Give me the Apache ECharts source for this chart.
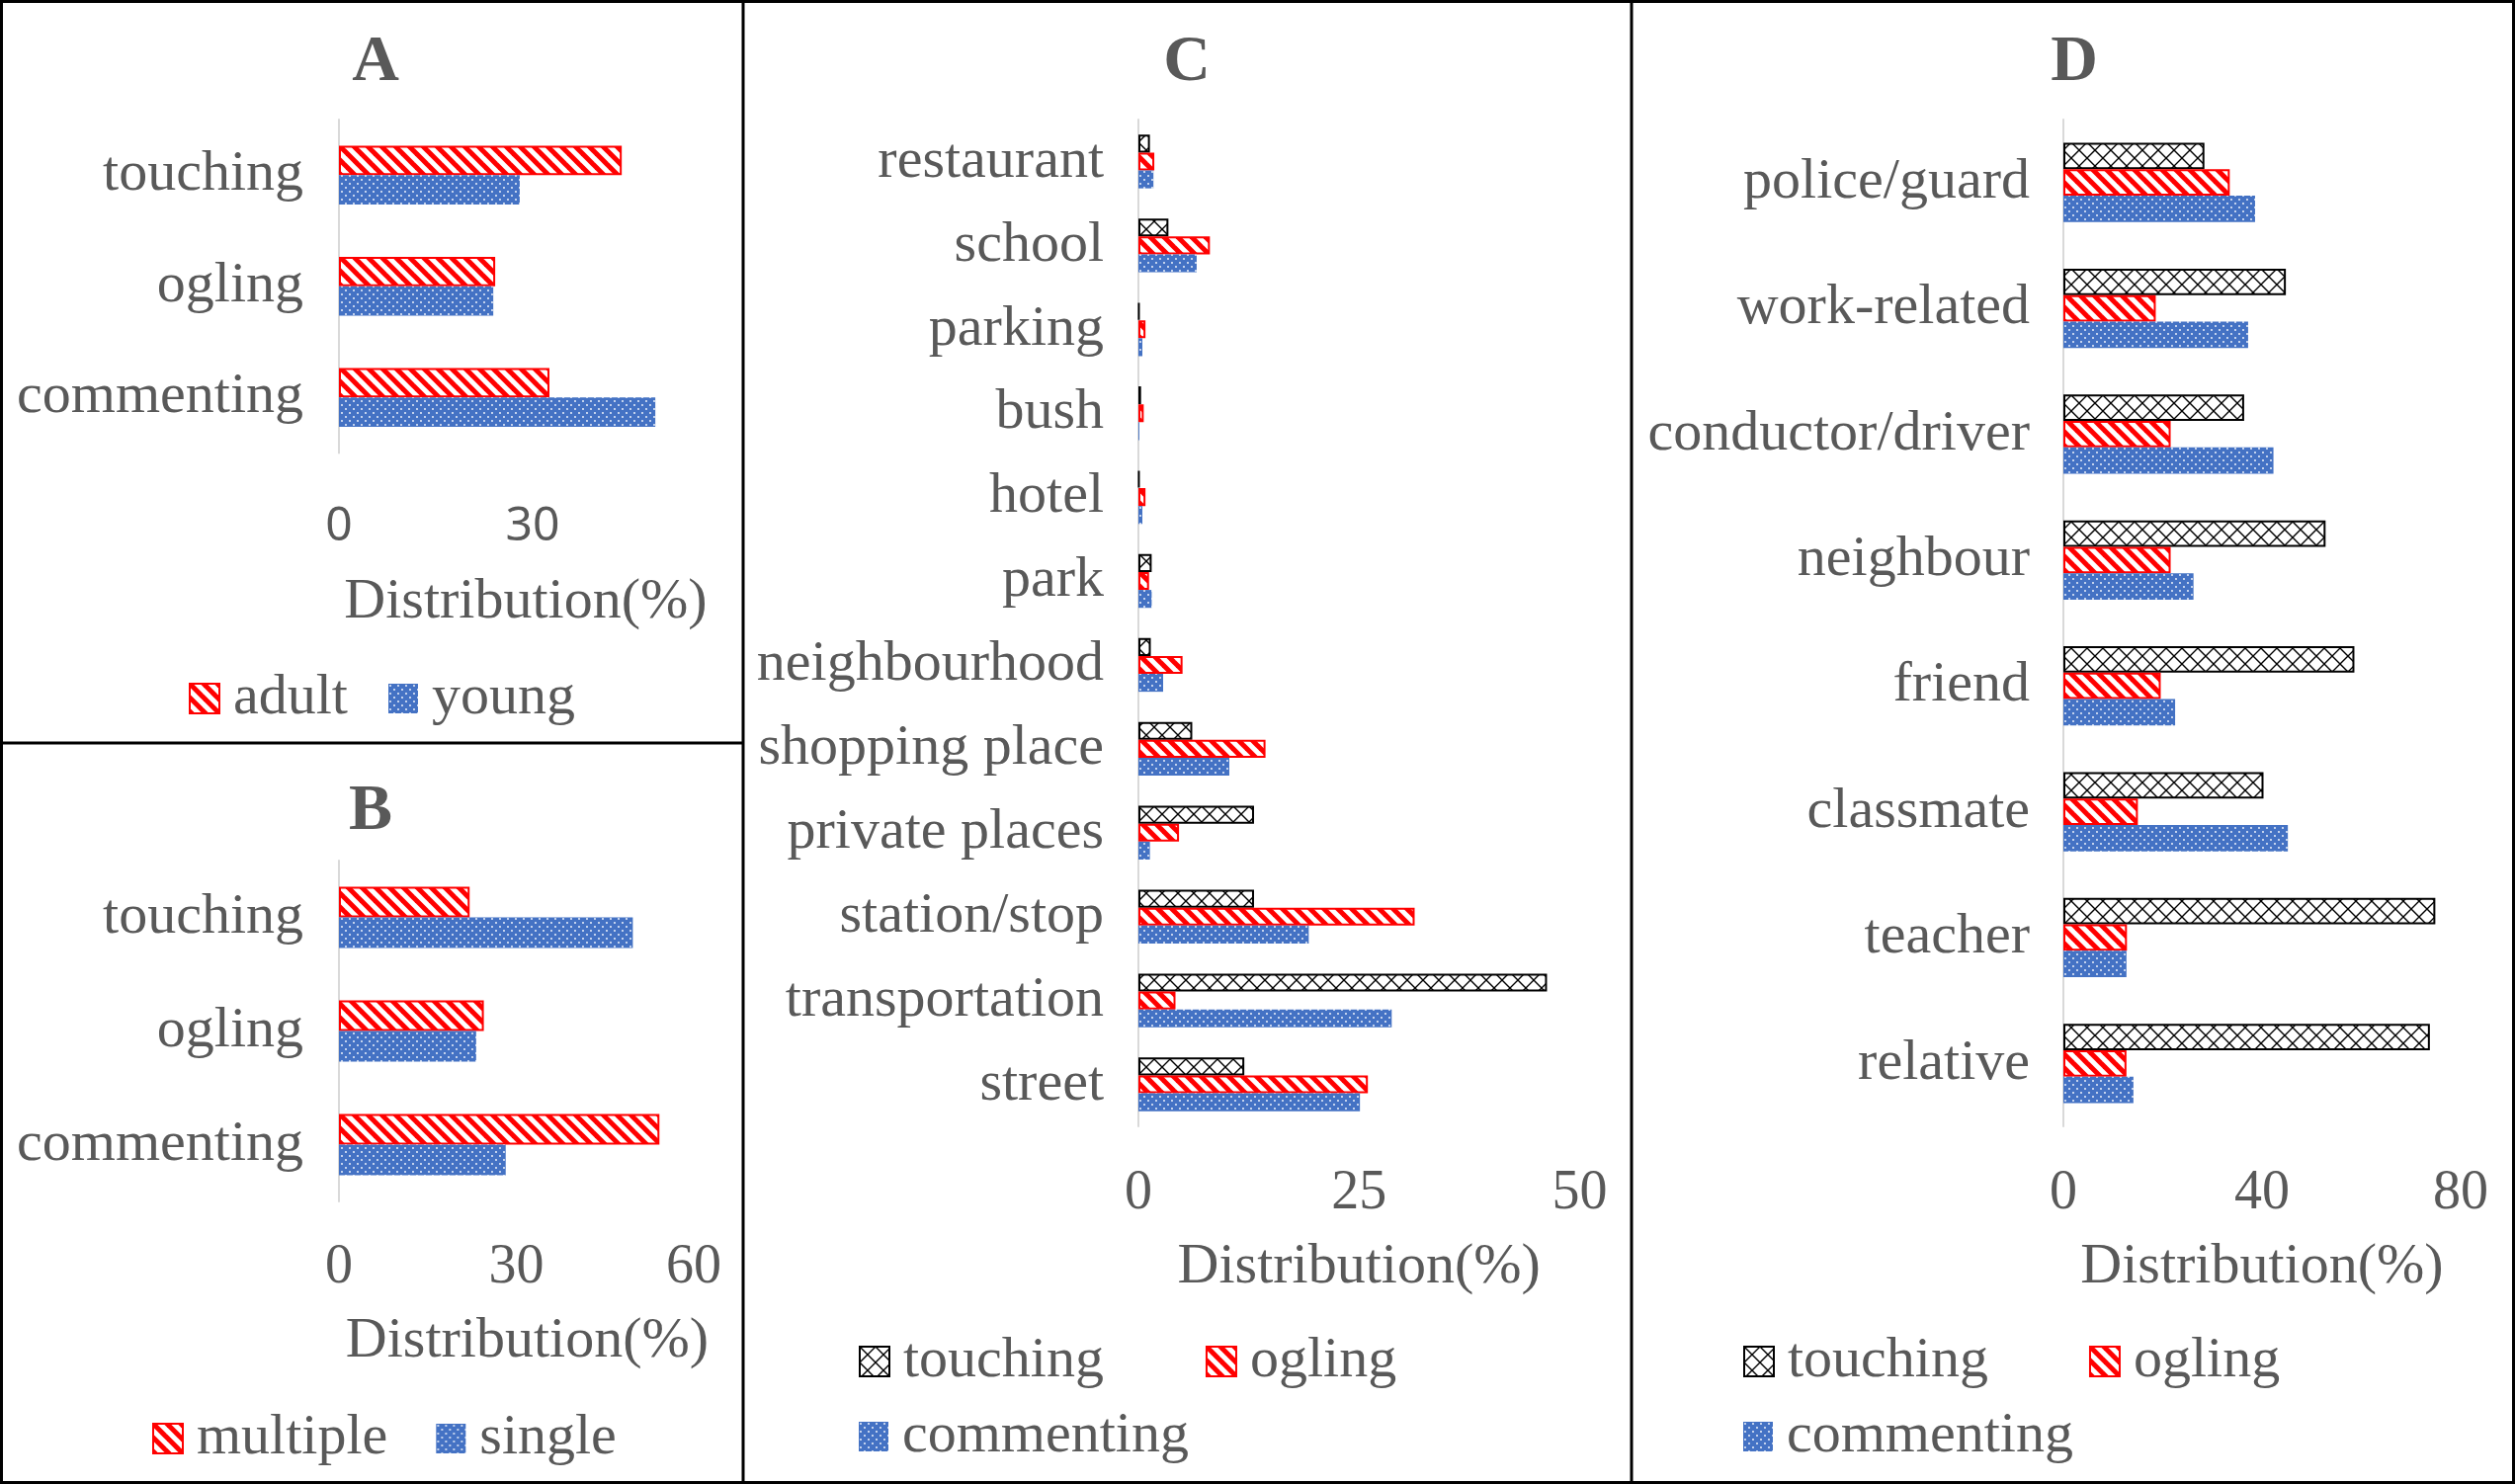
<!DOCTYPE html>
<html>
<head>
<meta charset="utf-8">
<script src="https://cdn.jsdelivr.net/npm/echarts@6/dist/echarts.min.js"></script>
<style>
  html, body { margin: 0; padding: 0; background: #fff; }
  #main { width: 2545px; height: 1502px; }
</style>
</head>
<body>
<div id="main"></div>
<script>
// panel A / B: sexual harassment type by age group and by number of perpetrators
const typeCats = ['touching', 'ogling', 'commenting'];
const adult = [43.8, 24.2, 32.6];
const young = [28.0, 23.9, 49.0];
const multiple = [22.1, 24.5, 54.2];
const single = [49.7, 23.2, 28.2];

// panel C: places
const placeCats = ['restaurant', 'school', 'parking', 'bush', 'hotel', 'park', 'neighbourhood',
  'shopping place', 'private places', 'station/stop', 'transportation', 'street'];
const touchingC = [1.3, 3.4, 0.1, 0.3, 0.1, 1.5, 1.4, 6.1, 13.1, 13.1, 46.3, 12.0];
const oglingC = [1.8, 8.1, 0.8, 0.6, 0.8, 1.2, 5.0, 14.4, 4.6, 31.3, 4.2, 26.0];
const commentingC = [1.7, 6.6, 0.45, 0.1, 0.45, 1.5, 2.8, 10.3, 1.3, 19.3, 28.7, 25.1];

// panel D: perpetrators
const perpCats = ['police/guard', 'work-related', 'conductor/driver', 'neighbour', 'friend',
  'classmate', 'teacher', 'relative'];
const touchingD = [28.4, 44.8, 36.4, 52.8, 58.6, 40.3, 74.9, 73.8];
const oglingD = [33.5, 18.6, 21.6, 21.6, 19.6, 15.0, 12.8, 12.7];
const commentingD = [38.6, 37.2, 42.3, 26.2, 22.5, 45.2, 12.7, 14.1];

const serif = '"Liberation Serif", "Times New Roman", serif';
const grey = '#595959';

// hatch fills like the excel patterns
function stripeTile() {
  const c = document.createElement('canvas');
  c.width = 14; c.height = 14;
  const g = c.getContext('2d');
  g.fillStyle = '#fff';
  g.fillRect(0, 0, 14, 14);
  g.strokeStyle = '#FF0000';
  g.lineWidth = 5;
  for (const o of [-14, 0, 14]) {
    g.beginPath();
    g.moveTo(o - 3, -3);
    g.lineTo(o + 17, 17);
    g.stroke();
  }
  return c;
}
function crossTile() {
  const c = document.createElement('canvas');
  c.width = 16; c.height = 16;
  const g = c.getContext('2d');
  g.fillStyle = '#fff';
  g.fillRect(0, 0, 16, 16);
  g.strokeStyle = '#000';
  g.lineWidth = 1.4;
  g.beginPath();
  g.moveTo(-2, -2); g.lineTo(18, 18);
  g.moveTo(18, -2); g.lineTo(-2, 18);
  g.stroke();
  return c;
}
function dotTile() {
  const c = document.createElement('canvas');
  c.width = 8; c.height = 8;
  const g = c.getContext('2d');
  g.fillStyle = '#4472C4';
  g.fillRect(0, 0, 8, 8);
  g.fillStyle = '#fff';
  g.beginPath(); g.arc(2, 2, 0.9, 0, Math.PI * 2); g.fill();
  g.beginPath(); g.arc(6, 6, 0.9, 0, Math.PI * 2); g.fill();
  return c;
}
const redStyle = { color: { image: stripeTile(), repeat: 'repeat' }, borderColor: '#FF0000', borderWidth: 2 };
const crossStyle = { color: { image: crossTile(), repeat: 'repeat' }, borderColor: '#000', borderWidth: 2 };
const blueStyle = { color: { image: dotTile(), repeat: 'repeat' }, borderWidth: 0 };

const grids = [
  { left: 343, top: 121, width: 392, height: 337.5 },
  { left: 343, top: 871, width: 359, height: 345 },
  { left: 1152, top: 121, width: 446.5, height: 1019 },
  { left: 2088, top: 121, width: 402, height: 1019 }
];

function xAx(i, max, interval, labelFont, labelSize, margin, nameGap, hideMax, namePad) {
  return {
    gridIndex: i, type: 'value', min: 0, max: max, interval: interval,
    axisLine: { show: false }, axisTick: { show: false }, splitLine: { show: false },
    axisLabel: { fontFamily: labelFont, fontSize: labelSize, color: grey, margin: margin, showMaxLabel: !hideMax },
    name: 'Distribution(%)', nameLocation: 'middle', nameGap: nameGap,
    nameTextStyle: { fontFamily: serif, fontSize: 58, color: grey, padding: namePad }
  };
}
function yAx(i, cats, margin) {
  return {
    gridIndex: i, type: 'category', data: cats, inverse: true,
    axisLine: { show: true, lineStyle: { color: '#D9D9D9', width: 2 } },
    axisTick: { show: false },
    axisLabel: { fontFamily: serif, fontSize: 58, color: grey, margin: margin }
  };
}
function bar(name, data, i, style, gap) {
  return {
    name: name, type: 'bar', data: data, xAxisIndex: i, yAxisIndex: i,
    itemStyle: style, barGap: '0%', barCategoryGap: gap,
    emphasis: { disabled: true }
  };
}
function legend(items, left, top, gap) {
  return {
    data: items, left: left, top: top, icon: 'rect', itemWidth: 30, itemHeight: 30,
    itemGap: gap, padding: 0, selectedMode: false,
    textStyle: { fontFamily: serif, fontSize: 58, color: grey, lineHeight: 58, padding: [0, 0, 0, 9] }
  };
}
function letter(t, x, y) {
  return {
    type: 'text', x: x, y: y,
    style: { text: t, fontFamily: serif, fontSize: 66, fontWeight: 'bold', fill: grey, align: 'center', verticalAlign: 'middle' }
  };
}
function line(x1, y1, x2, y2) {
  return { type: 'line', shape: { x1: x1, y1: y1, x2: x2, y2: y2 }, style: { stroke: '#000', lineWidth: 3 } };
}

const option = {
  backgroundColor: '#fff',
  animation: false,
  grid: grids,
  xAxis: [
    xAx(0, 60, 30, '"Noto Sans", sans-serif', 48, 51, 122, true, [0, 14, 0, 0]),
    xAx(1, 60, 30, serif, 56, 39, 113, false, [0, 0, 0, 22]),
    xAx(2, 50, 25, serif, 56, 40, 114, false, 0),
    xAx(3, 80, 40, serif, 56, 40, 114, false, 0)
  ],
  yAxis: [
    yAx(0, typeCats, 36),
    yAx(1, typeCats, 36),
    yAx(2, placeCats, 35),
    yAx(3, perpCats, 34)
  ],
  legend: [
    legend(['adult', 'young'], 191, 678, 41),
    legend(['multiple', 'single'], 154, 1427, 49),
    legend(['touching', 'ogling'], 869, 1349, 103),
    legend(['commenting'], 869, 1425, 103),
    legend(['touching', 'ogling'], 1764, 1349, 102),
    legend(['commenting'], 1764, 1425, 102)
  ],
  series: [
    bar('adult', adult, 0, redStyle, '47%'),
    bar('young', young, 0, blueStyle, '47%'),
    bar('multiple', multiple, 1, redStyle, '46%'),
    bar('single', single, 1, blueStyle, '46%'),
    bar('touching', touchingC, 2, crossStyle, '36%'),
    bar('ogling', oglingC, 2, redStyle, '36%'),
    bar('commenting', commentingC, 2, blueStyle, '36%'),
    bar('touching', touchingD, 3, crossStyle, '37%'),
    bar('ogling', oglingD, 3, redStyle, '37%'),
    bar('commenting', commentingD, 3, blueStyle, '37%')
  ],
  graphic: [
    letter('A', 380, 64),
    letter('B', 375, 822),
    letter('C', 1201, 64),
    letter('D', 2099, 64),
    { type: 'rect', shape: { x: 1.5, y: 1.5, width: 2542, height: 1499 }, style: { fill: 'none', stroke: '#000', lineWidth: 3 } },
    line(752, 0, 752, 1502),
    line(1651, 0, 1651, 1502),
    line(0, 752, 752, 752)
  ]
};

const chart = echarts.init(document.getElementById('main'));
chart.setOption(option);
</script>
</body>
</html>
